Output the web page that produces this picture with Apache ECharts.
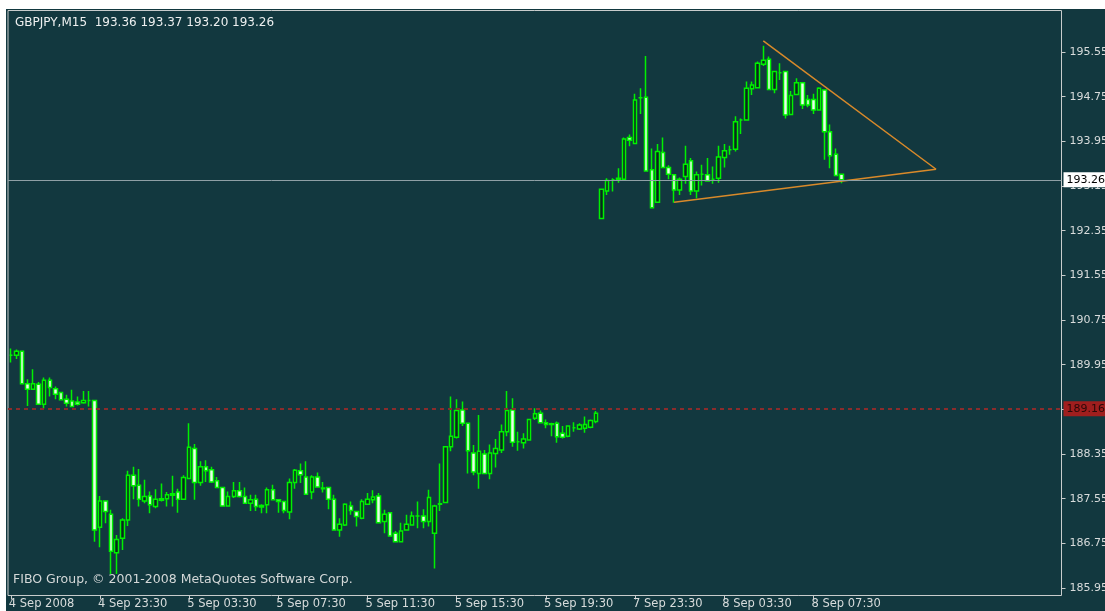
<!DOCTYPE html>
<html>
<head>
<meta charset="utf-8">
<title>GBPJPY,M15</title>
<script src="https://cdn.jsdelivr.net/npm/echarts@6/dist/echarts.min.js"></script>
<style>
    html, body { margin: 0; padding: 0; background: #ffffff; }
    #chart { position: absolute; left: 6px; top: 9px; width: 1099px; height: 602px; background: #12383f; }
</style>
</head>
<body>
<div id="chart"></div>
<script>
// bar labels shown under the axis, one every 16 bars (4 hours of M15)
var tickLabels = ['4 Sep 2008', '4 Sep 23:30', '5 Sep 03:30', '5 Sep 07:30', '5 Sep 11:30',
    '5 Sep 15:30', '5 Sep 19:30', '7 Sep 23:30', '8 Sep 03:30', '8 Sep 07:30'];

// OHLC, bar 0 = 4 Sep 19:30
var openPx = [190.12, 190.12, 190.19, 189.61, 189.51, 189.60, 189.24, 189.67, 189.52, 189.45,
    189.33, 189.30, 189.28, 189.27, 189.31, 189.31, 187.04, 187.51, 187.27, 186.58,
    186.84, 187.17, 187.97, 187.79, 187.51, 187.60, 187.41, 187.55, 187.55, 187.61,
    187.67, 187.54, 187.91, 188.45, 187.84, 188.12, 188.07, 187.87, 187.75, 187.42,
    187.59, 187.69, 187.59, 187.47, 187.54, 187.40, 187.44, 187.71, 187.53, 187.50,
    187.31, 187.84, 188.05, 187.94, 187.67, 187.94, 187.74, 187.75, 187.54, 186.99,
    187.08, 187.42, 187.32, 187.20, 187.45, 187.53, 187.60, 187.14, 187.30, 186.93,
    186.78, 186.99, 187.08, 187.24, 187.24, 187.14, 186.93, 187.45, 187.48, 188.48,
    188.65, 189.14, 188.90, 188.37, 188.00, 188.35, 188.00, 188.36, 188.42, 188.75,
    189.14, 188.57, 188.55, 188.60, 188.99, 189.08, 188.91, 188.89, 188.90, 188.72,
    188.67, 188.82, 188.80, 188.81, 188.83, 188.93, 192.57, 193.06, 193.26, 193.27,
    193.27, 194.02, 193.91, 194.73, 194.74, 193.44, 192.86, 193.75, 193.48, 193.35,
    193.08, 193.32, 193.60, 193.06, 193.36, 193.35, 193.27, 193.29, 193.66, 193.80,
    193.81, 194.33, 194.33, 194.89, 194.91, 195.33, 195.42, 194.88, 195.18, 195.20,
    194.43, 194.79, 195.00, 194.70, 194.70, 194.51, 194.87, 194.12, 193.72, 193.36];
var closePx = [190.12, 190.19, 189.61, 189.51, 189.61, 189.24, 189.67, 189.54, 189.42, 189.32,
    189.26, 189.20, 189.24, 189.31, 189.31, 186.99, 187.51, 187.32, 186.61, 186.82,
    187.17, 187.97, 187.78, 187.54, 187.59, 187.44, 187.54, 187.52, 187.62, 187.64,
    187.54, 187.93, 188.47, 187.84, 188.12, 188.05, 187.85, 187.75, 187.42, 187.59,
    187.69, 187.59, 187.47, 187.53, 187.41, 187.43, 187.71, 187.53, 187.50, 187.34,
    187.84, 188.06, 187.98, 187.63, 187.94, 187.76, 187.73, 187.54, 186.99, 187.09,
    187.45, 187.34, 187.23, 187.50, 187.54, 187.58, 187.12, 187.27, 186.88, 186.78,
    186.97, 187.09, 187.24, 187.24, 187.14, 187.57, 187.42, 187.46, 188.48, 188.67,
    189.13, 188.90, 188.41, 188.03, 188.40, 188.00, 188.37, 188.45, 188.75, 189.13,
    188.56, 188.57, 188.62, 188.97, 189.07, 188.91, 188.88, 188.88, 188.66, 188.65,
    188.85, 188.82, 188.87, 188.88, 188.95, 189.08, 193.09, 193.25, 193.26, 193.29,
    193.99, 193.97, 194.69, 194.73, 193.42, 192.76, 193.77, 193.48, 193.36, 193.08,
    193.27, 193.54, 193.06, 193.35, 193.36, 193.24, 193.27, 193.67, 193.78, 193.80,
    194.30, 194.33, 194.90, 194.96, 195.35, 195.40, 194.88, 195.20, 195.18, 194.42,
    194.77, 195.00, 194.60, 194.60, 194.51, 194.90, 194.12, 193.69, 193.34, 193.26];
var lowPx = [189.99, 190.05, 189.61, 189.21, 189.51, 189.23, 189.16, 189.38, 189.33, 189.31,
    189.20, 189.20, 189.22, 189.25, 189.20, 186.78, 186.68, 187.11, 186.20, 186.20,
    186.63, 187.06, 187.54, 187.41, 187.47, 187.29, 187.38, 187.50, 187.41, 187.41,
    187.30, 187.54, 187.91, 187.53, 187.78, 187.85, 187.83, 187.74, 187.41, 187.41,
    187.56, 187.57, 187.46, 187.33, 187.33, 187.29, 187.29, 187.52, 187.30, 187.29,
    187.18, 187.73, 187.83, 187.62, 187.54, 187.75, 187.66, 187.36, 186.99, 186.87,
    187.06, 187.26, 187.05, 187.18, 187.45, 187.47, 187.11, 186.93, 186.88, 186.78,
    186.78, 186.98, 187.07, 187.02, 187.02, 187.05, 186.30, 187.33, 187.47, 188.40,
    188.63, 188.85, 188.00, 187.97, 187.73, 188.00, 187.90, 188.11, 188.37, 188.67,
    188.48, 188.41, 188.45, 188.60, 188.96, 188.90, 188.81, 188.67, 188.55, 188.63,
    188.65, 188.75, 188.78, 188.73, 188.81, 188.90, 192.56, 192.99, 193.05, 193.21,
    193.26, 193.86, 193.90, 194.44, 193.41, 192.75, 192.85, 193.47, 193.27, 192.85,
    192.99, 193.19, 192.99, 192.93, 193.16, 193.23, 193.19, 193.21, 193.48, 193.71,
    193.77, 194.08, 194.32, 194.78, 194.90, 195.30, 194.88, 194.81, 195.05, 194.36,
    194.43, 194.79, 194.53, 194.56, 194.44, 194.51, 193.62, 193.47, 193.34, 193.20];
var highPx = [190.24, 190.22, 190.19, 189.69, 189.87, 189.64, 189.72, 189.72, 189.56, 189.46,
    189.41, 189.50, 189.38, 189.48, 189.48, 189.32, 187.60, 187.51, 187.35, 186.90,
    187.20, 188.05, 188.12, 188.08, 187.89, 187.68, 187.72, 187.82, 187.67, 187.96,
    187.73, 187.97, 188.90, 188.53, 188.22, 188.24, 188.12, 187.94, 187.76, 187.68,
    187.85, 187.85, 187.75, 187.62, 187.62, 187.45, 187.75, 187.80, 187.54, 187.50,
    187.91, 188.08, 188.18, 188.22, 187.97, 188.02, 187.85, 187.75, 187.62, 187.20,
    187.47, 187.50, 187.32, 187.54, 187.65, 187.70, 187.65, 187.35, 187.30, 186.97,
    187.12, 187.26, 187.32, 187.50, 187.36, 187.71, 187.44, 188.18, 188.49, 189.38,
    189.33, 189.29, 188.90, 188.51, 189.05, 188.42, 188.52, 188.62, 188.88, 189.48,
    189.35, 188.75, 188.72, 188.97, 189.17, 189.13, 188.97, 188.91, 188.93, 188.85,
    188.86, 188.92, 188.90, 189.02, 188.97, 189.12, 193.10, 193.29, 193.29, 193.47,
    194.02, 194.07, 194.80, 194.90, 195.48, 193.82, 193.90, 194.02, 193.52, 193.36,
    193.30, 193.87, 193.65, 193.41, 193.53, 193.65, 193.50, 193.87, 193.90, 193.87,
    194.40, 194.36, 195.02, 195.02, 195.38, 195.66, 195.47, 195.20, 195.35, 195.20,
    194.85, 195.08, 195.00, 194.78, 194.80, 194.92, 194.87, 194.25, 193.82, 193.37];

// price scale labels on the right
var priceTicks = [185.95, 186.75, 187.55, 188.35, 189.15, 189.95, 190.75, 191.55, 192.35,
    193.15, 193.95, 194.75, 195.55];

// hand drawn triangle: [bar index, price]
var trendLower = [[119, 192.86], [166, 193.45]];
var trendUpper = [[135, 195.75], [166, 193.45]];

var bidPrice = 193.26;
var redLevel = 189.16;
var headerText = 'GBPJPY,M15  193.36 193.37 193.20 193.26';
var footerText = 'FIBO Group, \u00a9 2001-2008 MetaQuotes Software Corp.';

var totalSlots = 189;   // chart shifted left, empty room on the right
var cats = [];
for (var i = 0; i < totalSlots; i++) cats.push(String(i));

var candles = [];
for (var j = 0; j < openPx.length; j++) {
    candles.push([openPx[j], closePx[j], lowPx[j], highPx[j]]);
}

var FONT = 'DejaVu Sans';
var TXT = '#d8dcdc';
var LIME = '#00f000';

function isLabelSlot(idx) {
    return idx % 16 === 0 && idx / 16 < tickLabels.length;
}

var chart = echarts.init(document.getElementById('chart'));
chart.setOption({
    animation: false,
    backgroundColor: '#12383f',
    title: [
        {
            text: headerText, left: 9, top: 8, padding: 0,
            textStyle: { color: '#eef0f0', fontSize: 12, fontWeight: 'normal', fontFamily: FONT }
        },
        {
            text: footerText, left: 7, top: 564, padding: 0,
            textStyle: { color: '#d4d8d8', fontSize: 12.5, fontWeight: 'normal', fontFamily: FONT }
        }
    ],
    grid: {
        left: 2, right: 43.5, top: 1.5, bottom: 15.5,
        outerBoundsMode: 'none',
        containLabel: false,
        show: true, borderColor: '#c8cccc', borderWidth: 1, backgroundColor: 'transparent'
    },
    xAxis: {
        type: 'category',
        data: cats,
        boundaryGap: true,
        axisLine: { show: false },
        axisTick: {
            show: true, alignWithLabel: true, length: 4,
            interval: function (idx) { return isLabelSlot(idx); },
            lineStyle: { color: '#c8cccc' }
        },
        axisLabel: {
            interval: function (idx) { return isLabelSlot(idx); },
            formatter: function (val, idx) { return tickLabels[idx / 16]; },
            align: 'left', margin: 3, padding: [0, 0, 0, -2],
            color: TXT, fontSize: 11.5, fontFamily: FONT
        },
        splitLine: { show: false }
    },
    yAxis: {
        type: 'value',
        position: 'right',
        min: 185.816,
        max: 196.293,
        scale: true,
        axisLine: { show: false },
        axisTick: {
            show: true, length: 4, customValues: priceTicks,
            lineStyle: { color: '#c8cccc' }
        },
        axisLabel: {
            customValues: priceTicks,
            formatter: function (v) { return v.toFixed(2); },
            margin: 8, color: TXT, fontSize: 11, fontFamily: FONT
        },
        splitLine: { show: false }
    },
    series: [
        {
            type: 'candlestick',
            data: candles,
            barWidth: 4,
            itemStyle: {
                color: '#08261c',        // up bar body
                color0: '#e8ffe8',       // down bar body
                borderColor: LIME,
                borderColor0: LIME,
                borderColorDoji: LIME,
                borderWidth: 1.5
            },
            markLine: {
                silent: true,
                symbol: 'none',
                data: [
                    {
                        yAxis: bidPrice,
                        lineStyle: { color: '#8fa0a6', width: 1, type: 'solid' },
                        label: {
                            show: true, position: 'end', distance: 2,
                            formatter: bidPrice.toFixed(2),
                            backgroundColor: '#ffffff', color: '#000000',
                            padding: [2, 8, 2, 3], fontSize: 11, fontFamily: FONT
                        }
                    },
                    {
                        yAxis: redLevel,
                        lineStyle: { color: '#8a2c2c', width: 2, type: [4, 4] },
                        label: {
                            show: true, position: 'end', distance: 2,
                            formatter: redLevel.toFixed(2),
                            backgroundColor: '#a01e1e', color: '#2a0808',
                            padding: [2, 8, 2, 3], fontSize: 11, fontFamily: FONT
                        }
                    }
                ]
            }
        },
        {
            type: 'line',
            data: trendLower,
            symbol: 'none',
            lineStyle: { color: '#d98a2a', width: 1.5 }
        },
        {
            type: 'line',
            data: trendUpper,
            symbol: 'none',
            lineStyle: { color: '#d98a2a', width: 1.5 }
        }
    ]
});
</script>
</body>
</html>
